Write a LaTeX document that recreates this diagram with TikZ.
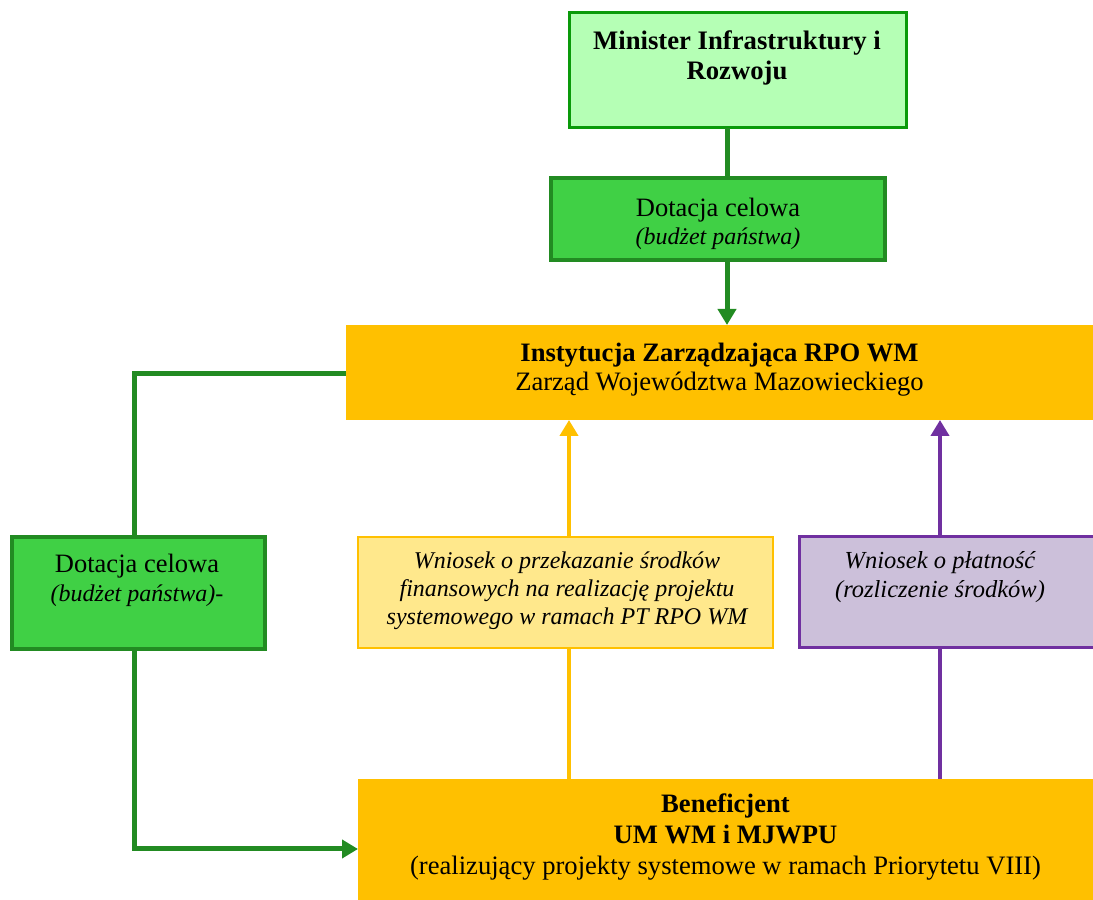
\documentclass[tikz,border=0pt]{standalone}
\usepackage{fontspec}
\setmainfont{Liberation Serif}
\usetikzlibrary{arrows.meta,calc}
\definecolor{mgreenfill}{HTML}{B5FFB5}
\definecolor{mgreenline}{HTML}{0A9A0A}
\definecolor{dgreenfill}{HTML}{40D045}
\definecolor{dgreen}{HTML}{228B22}
\definecolor{gold}{HTML}{FFC000}
\definecolor{lightgold}{HTML}{FFE88C}
\definecolor{lilac}{HTML}{CCC0DA}
\definecolor{violet}{HTML}{7030A0}
\tikzset{
  x=1pt,y=1pt,
  boxbase/.style={rectangle,inner sep=0pt,outer sep=0pt},
  ministerbox/.style={boxbase,fill=mgreenfill,draw=mgreenline,line width=3pt},
  dotbox/.style={boxbase,fill=dgreenfill,draw=dgreen,line width=4pt},
  goldbox/.style={boxbase,fill=gold},
  wniosekbox/.style={boxbase,fill=lightgold,draw=gold,line width=2pt},
  platbox/.style={boxbase,fill=lilac,draw=violet,line width=3pt},
  txt/.style={inner sep=0pt,align=center},
  greenline/.style={draw=dgreen,line width=5pt},
  goldline/.style={draw=gold,line width=4pt},
  violetline/.style={draw=violet,line width=4pt},
  tip/.style={-{Triangle[length=16pt,width=18pt]}},
}
\begin{document}
\begin{tikzpicture}
\useasboundingbox (0,0) rectangle (1093,900);
% boxes
\node[ministerbox,minimum width=337pt,minimum height=115pt] (min) at (737.5,829.5) {};
\node[dotbox,minimum width=334pt,minimum height=82pt] (dot1) at (718,681) {};
\node[goldbox,minimum width=747pt,minimum height=95pt] (iz) at (719.5,527.5) {};
\node[dotbox,minimum width=253pt,minimum height=112pt] (dot2) at (138.5,307) {};
\node[wniosekbox,minimum width=415pt,minimum height=111pt] (wn) at (565.5,307.5) {};
\node[platbox,minimum width=301pt,minimum height=111pt] (pl) at (949.5,307.5) {};
\node[goldbox,minimum width=735pt,minimum height=121pt] (ben) at (725.5,60.5) {};
% texts
\node[txt,font=\fontsize{26.7}{30}\selectfont\bfseries] (tmin) at (737,842) {Minister Infrastruktury i\\Rozwoju};
\node[txt,font=\fontsize{26.5}{28}\selectfont] (tdot1) at (718,676) {Dotacja celowa\\{\fontsize{24}{28}\selectfont\itshape (budżet państwa)}};
\node[txt,font=\fontsize{26.6}{29}\selectfont] (tiz) at (719.5,530.5) {\textbf{Instytucja Zarządzająca RPO WM}\\Zarząd Województwa Mazowieckiego};
\node[txt,font=\fontsize{26.5}{29}\selectfont] (tdot2) at (137,319.5) {Dotacja celowa\\{\fontsize{24}{29}\selectfont\itshape (budżet państwa)-}};
\node[txt,font=\fontsize{24}{28}\selectfont\itshape] (twn) at (567,309) {Wniosek o przekazanie środków\\finansowych na realizację projektu\\systemowego w ramach PT RPO WM};
\node[txt,font=\fontsize{24.5}{29}\selectfont\itshape] (tpl) at (940,322.5) {Wniosek o płatność\\(rozliczenie środków)};
\node[txt,font=\fontsize{26.6}{31}\selectfont] (tben) at (725.5,63) {\textbf{Beneficjent}\\\textbf{UM WM i MJWPU}\\(realizujący projekty systemowe w ramach Priorytetu VIII)};
% connector columns
\coordinate (cx) at (727,0);
\coordinate (lx) at (134,0);
\coordinate (ly) at (0,526);
\coordinate (by) at (0,51);
\coordinate (wx) at (569,0);
\coordinate (px) at (940,0);
% connectors
\draw[greenline] (min.south -| cx) -- (dot1.north -| cx);
\draw[greenline,tip] (dot1.south -| cx) -- (iz.north -| cx);
\draw[greenline] (iz.west |- ly) -- (lx |- ly) -- (dot2.north -| lx);
\draw[greenline,tip] (dot2.south -| lx) -- (lx |- by) -- (ben.west |- by);
\draw[goldline] (ben.north -| wx) -- (wn.south -| wx);
\draw[goldline,tip] (wn.north -| wx) -- (iz.south -| wx);
\draw[violetline] (ben.north -| px) -- (pl.south -| px);
\draw[violetline,tip] (pl.north -| px) -- (iz.south -| px);
\end{tikzpicture}
\end{document}
